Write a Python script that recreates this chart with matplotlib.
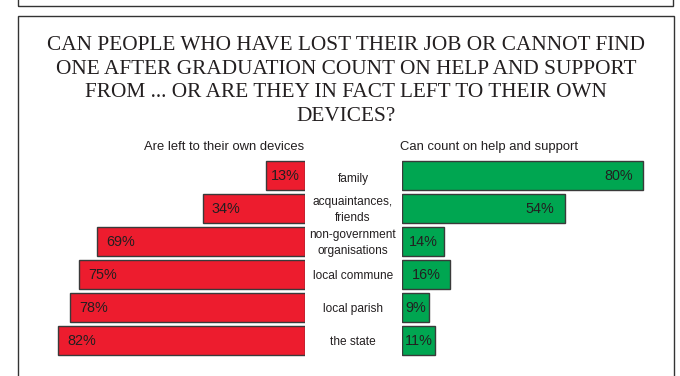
import matplotlib
matplotlib.use("Agg")
import matplotlib.pyplot as plt
from matplotlib.patches import Rectangle

# Survey answers per source of help (percent of respondents)
categories = ["family", "acquaintances,\nfriends", "non-government\norganisations",
              "local commune", "local parish", "the state"]
left_to_own = [13, 34, 69, 75, 78, 82]
can_count_on = [80, 54, 14, 16, 9, 11]

title = ("CAN PEOPLE WHO HAVE LOST THEIR JOB OR CANNOT FIND\n"
         "ONE AFTER GRADUATION COUNT ON HELP AND SUPPORT\n"
         "FROM ... OR ARE THEY IN FACT LEFT TO THEIR OWN\n"
         "DEVICES?")
left_header = "Are left to their own devices"
right_header = "Can count on help and support"

RED = "#ED1C2E"
GREEN = "#00A651"
EDGE = "#3a3a3a"
INK = "#231F20"

W, H = 680, 376
fig = plt.figure(figsize=(W / 100, H / 100), dpi=100)
fig.patch.set_facecolor("white")


def fx(x):
    return x / W


def fy(y):
    return 1 - y / H


# frames: bottom of the previous panel and the top of this one
fig.add_artist(Rectangle((fx(18), fy(6)), fx(673) - fx(18), 0.2, transform=fig.transFigure,
                         fill=False, edgecolor="#333333", lw=1.0))
fig.add_artist(Rectangle((fx(18), -0.1), fx(674) - fx(18), fy(16) + 0.1, transform=fig.transFigure,
                         fill=False, edgecolor="#333333", lw=1.0))

fig.text(fx(346), fy(81), title, ha="center", va="center", multialignment="center",
         fontsize=15.3, family="Liberation Serif", color=INK, linespacing=1.33)

PX_PER_PCT = 3.01
row_top, row_bot = 159, 357
n = len(categories)
ax_h = (row_bot - row_top) / H

# left panel: bars grow leftwards from x=305 px
l_left, l_right = 40, 305
axL = fig.add_axes([fx(l_left), fy(row_bot), fx(l_right) - fx(l_left), ax_h])
axL.set_xlim((l_right - l_left) / PX_PER_PCT, 0)
# right panel: bars grow rightwards from x=402 px
r_left, r_right = 402, 665
axR = fig.add_axes([fx(r_left), fy(row_bot), fx(r_right) - fx(r_left), ax_h])
axR.set_xlim(0, (r_right - r_left) / PX_PER_PCT)

ys = list(range(n))
for ax in (axL, axR):
    ax.set_ylim(n - 0.5, -0.5)
    ax.axis("off")

axL.barh(ys, left_to_own, height=0.87, color=RED, edgecolor=EDGE, linewidth=1.0)
axR.barh(ys, can_count_on, height=0.87, color=GREEN, edgecolor=EDGE, linewidth=1.0)

pad = 9 / PX_PER_PCT
for y, v in zip(ys, left_to_own):
    if v >= 30:
        axL.text(v - pad, y + 0.03, f"{v}%", ha="left", va="center", fontsize=10.4,
                 family="Liberation Sans", color=INK)
    else:
        axL.text(v / 2, y + 0.03, f"{v}%", ha="center", va="center", fontsize=10.4,
                 family="Liberation Sans", color=INK)

pad_r = 10 / PX_PER_PCT
for y, v in zip(ys, can_count_on):
    if v >= 30:
        axR.text(v - pad_r, y + 0.03, f"{v}%", ha="right", va="center", fontsize=10.4,
                 family="Liberation Sans", color=INK)
    else:
        axR.text(v / 2, y + 0.03, f"{v}%", ha="center", va="center", fontsize=10.4,
                 family="Liberation Sans", color=INK)

# category names between the two panels
row_px = (row_bot - row_top) / n
for i, cat in enumerate(categories):
    yc = row_top + row_px * (i + 0.5) + (3.5 if i == 0 else 1.5)
    fig.text(fx(353), fy(yc), cat, ha="center", va="center", multialignment="center",
             fontsize=8.6, family="Liberation Sans", color=INK, linespacing=1.5)

fig.text(fx(304), fy(147.3), left_header, ha="right", va="center", fontsize=9.4,
         family="Liberation Sans", color=INK)
fig.text(fx(400), fy(146.7), right_header, ha="left", va="center", fontsize=9.4,
         family="Liberation Sans", color=INK)

fig.savefig("out.png", dpi=100, facecolor="white")
